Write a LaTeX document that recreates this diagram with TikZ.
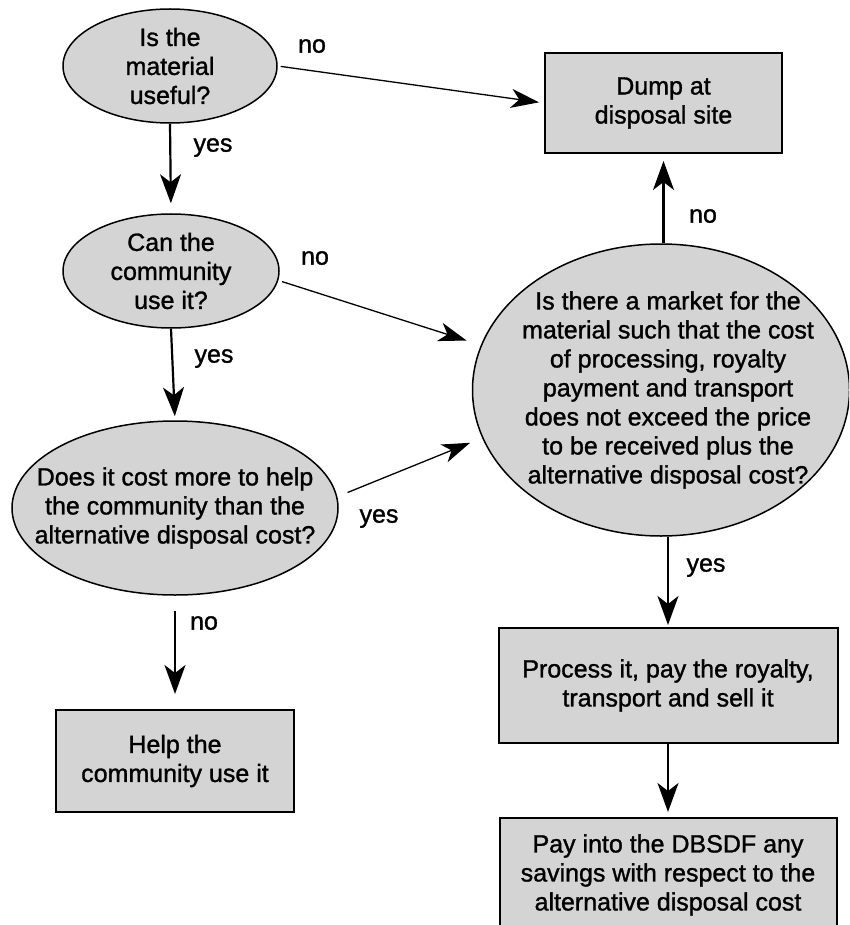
\documentclass[tikz,border=0pt]{standalone}
\usepackage{fontspec}
\setmainfont{Liberation Sans}[FakeBold=1.2]
\usetikzlibrary{shapes.geometric,arrows.meta}

\tikzset{
  labelfont/.style={font=\fontsize{25}{29}\selectfont},
  textlabel/.style={inner sep=0pt, align=center, labelfont},
  % the ellipse keeps its given size; its words sit in a label at its centre
  questionshape/.style={ellipse, draw=black, line width=1.5pt, fill=black!17,
    inner sep=0pt},
  question/.style={questionshape, label={[textlabel]center:{#1}}},
  action/.style={rectangle, draw=black, line width=2pt, fill=black!17,
    inner sep=0pt, align=center, labelfont},
  flow/.style={-{Stealth[length=29pt,width=21pt,inset=8pt]}, line width=2.2pt},
  sideflow/.style={-{Stealth[length=28pt,width=19pt,inset=8pt]}, line width=1.3pt},
  answer/.style={anchor=mid, inner sep=0pt, labelfont}
}

\begin{document}
\begin{tikzpicture}[x=1pt,y=-1pt]
  \clip (0,0) rectangle (849,925);

  % decisions
  \node[question={Is the\\material\\useful?},
        minimum width=214pt, minimum height=114pt] (q1) at (170,66) {};
  \node[question={Can the\\community\\use it?},
        minimum width=216pt, minimum height=114pt] (q2) at (171,271) {};
  \node[question={Does it cost more to help\\the community than the\\alternative disposal cost?},
        minimum width=326pt, minimum height=174pt] (q3) at (175,508) {};
  \node[questionshape,
        label={[textlabel,xshift=7pt]center:{Is there a market for the\\material such that the cost\\of processing, royalty\\payment and transport\\does not exceed the price\\to be received plus the\\alternative disposal cost?}},
        minimum width=377pt, minimum height=292pt] (q4) at (661,390) {};

  % outcomes
  \node[action, minimum width=237pt, minimum height=100pt] (dump) at (663.5,103)
    {Dump at\\disposal site};
  \node[action, minimum width=339pt, minimum height=115pt] (proc) at (668,685.5)
    {Process it, pay the royalty,\\transport and sell it};
  \node[action, minimum width=337pt, minimum height=114pt] (pay) at (668,875)
    {Pay into the DBSDF any\\savings with respect to the\\alternative disposal cost};
  \node[action, minimum width=238pt, minimum height=102pt] (help) at (175,761)
    {Help the\\community use it};

  % vertical connectors
  \draw[flow, shorten >=10pt] (q1.south) -- (q2.north);
  \draw[flow, shorten >=4pt] (q2.south) -- (q3.north);
  \draw[flow, shorten <=15pt, shorten >=15pt] (q3.south) -- (help.north);
  \draw[flow, shorten >=7pt] (dump.south |- q4.north) -- (dump.south);
  \draw[flow, shorten >=2pt] (proc.north |- q4.south) -- (proc.north);
  \draw[flow, shorten >=5pt] (proc.south) -- (pay.north);

  % slanted connectors
  \draw[sideflow, shorten <=3pt, shorten >=5pt] (q1.east) -- (dump.west);
  \draw[sideflow, shorten <=4pt, shorten >=15pt] (q2.-5) -- (q4.166);
  \draw[sideflow, shorten <=11pt, shorten >=13pt] (q3.4) -- (q4.195);

  % answers
  \node[answer] (a1) at (312,50) {no};
  \node[answer] (a2) at (213,149) {yes};
  \node[answer] (a3) at (315,262) {no};
  \node[answer] (a4) at (214,360) {yes};
  \node[answer] (a5) at (379,520) {yes};
  \node[answer] (a6) at (204,627) {no};
  \node[answer] (a7) at (703,220) {no};
  \node[answer] (a8) at (706,569) {yes};
\end{tikzpicture}
\end{document}
